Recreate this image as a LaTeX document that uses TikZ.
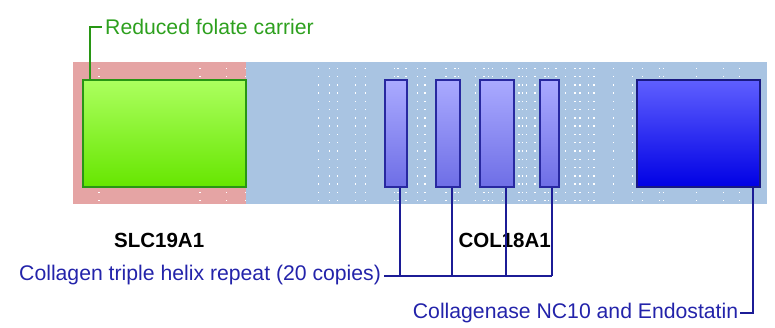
\documentclass[tikz,border=0pt]{standalone}
\usepackage{fontspec}
\setmainfont{Liberation Sans}
\definecolor{pinkbg}{RGB}{229,164,164}
\definecolor{bluebg}{RGB}{169,196,226}
\definecolor{gtext}{RGB}{45,160,30}
\definecolor{gborder}{RGB}{40,150,20}
\definecolor{gtop}{RGB}{172,255,95}
\definecolor{gbot}{RGB}{102,230,0}
\definecolor{btext}{RGB}{35,35,170}
\definecolor{bline}{RGB}{28,28,150}
\definecolor{sborder}{RGB}{40,40,160}
\definecolor{stop}{RGB}{170,170,255}
\definecolor{sbot}{RGB}{110,110,230}
\definecolor{ltop}{RGB}{95,95,255}
\definecolor{lbot}{RGB}{0,0,228}
\definecolor{lborder}{RGB}{25,25,130}
\begin{document}
\begin{tikzpicture}[x=1pt,y=-1pt,
  dom/.style={rectangle, inner sep=0, minimum height=107pt, line width=1.9pt},
  gdom/.style={dom, draw=gborder, top color=gtop, bottom color=gbot},
  sdom/.style={dom, draw=sborder, top color=stop, bottom color=sbot},
  ldom/.style={dom, draw=lborder, top color=ltop, bottom color=lbot},
  lbl/.style={inner sep=0, font=\fontsize{21.2}{25}\selectfont},
  gene/.style={inner sep=0, anchor=base west, font=\fontsize{20.5}{24}\selectfont\bfseries},
  bconn/.style={draw=bline, line width=2pt},
  gconn/.style={draw=gborder, line width=2pt}]
\useasboundingbox (0,0) rectangle (775,327);
% backgrounds
\fill[pinkbg] (73,62) rectangle (246,204);
\fill[bluebg] (246,62) rectangle (767,204);
% dot columns
\foreach \x in {99,200,226.7,245.7,318.3,329.7,337.7,355.3,365.3,394.3,398,406,417.7,425,446,455,458.3,475.7,484,488.3,492.7,502.3,506.7,519,522.7,526.7,535,545,548.7,556,565.7,575,580,588.3,594,613.5,632.7,642.7,659.3,663.3,696.7,723.3,739.3}{
  \foreach \i in {0,...,16}{
    \fill[white] (\x-0.7,68.3+\i*8.27-0.7) rectangle ++(1.4,1.4);
  }
}
% gene names
\node[gene] (slc) at (114,247.7) {SLC19A1};
\node[gene] (col) at (458.3,247.7) {COL18A1};
% domains
\node[gdom, minimum width=163pt] (g) at (164.5,133.5) {};
\node[sdom, minimum width=22.3pt] (b1) at (395.85,133.5) {};
\node[sdom, minimum width=24pt] (b2) at (448,133.5) {};
\node[sdom, minimum width=33.4pt] (b3) at (497,133.5) {};
\node[sdom, minimum width=19.6pt] (b4) at (549.5,133.5) {};
\node[ldom, minimum width=123pt] (big) at (698.8,133.5) {};
% labels
\node[lbl, text=gtext, anchor=west] (lg) at (105,26.5) {Reduced folate carrier};
\node[lbl, text=btext, anchor=west] (lc) at (19,275.5) {Collagen triple helix repeat (20 copies)};
\node[lbl, text=btext, anchor=west] (le) at (412.7,313.3) {Collagenase NC10 and Endostatin};
% connector x positions
\coordinate (xg) at (90,0);
\coordinate (x1) at (400,0);
\coordinate (x2) at (452.3,0);
\coordinate (x3) at (506,0);
\coordinate (x4) at (552,0);
\coordinate (x5) at (752.7,0);
% connectors
\draw[gconn] (g.north -| xg) -- (xg |- lg.west) -- ([xshift=-3]lg.west);
\draw[bconn] ([xshift=3.3]lc.east) -- (lc.east -| x4);
\draw[bconn] (b1.south -| x1) -- (lc.east -| x1);
\draw[bconn] (b2.south -| x2) -- (lc.east -| x2);
\draw[bconn] (b3.south -| x3) -- (lc.east -| x3);
\draw[bconn] (b4.south -| x4) -- (lc.east -| x4);
\draw[bconn] (big.south -| x5) -- (le.east -| x5) -- ([xshift=1.8]le.east);
\end{tikzpicture}
\end{document}
